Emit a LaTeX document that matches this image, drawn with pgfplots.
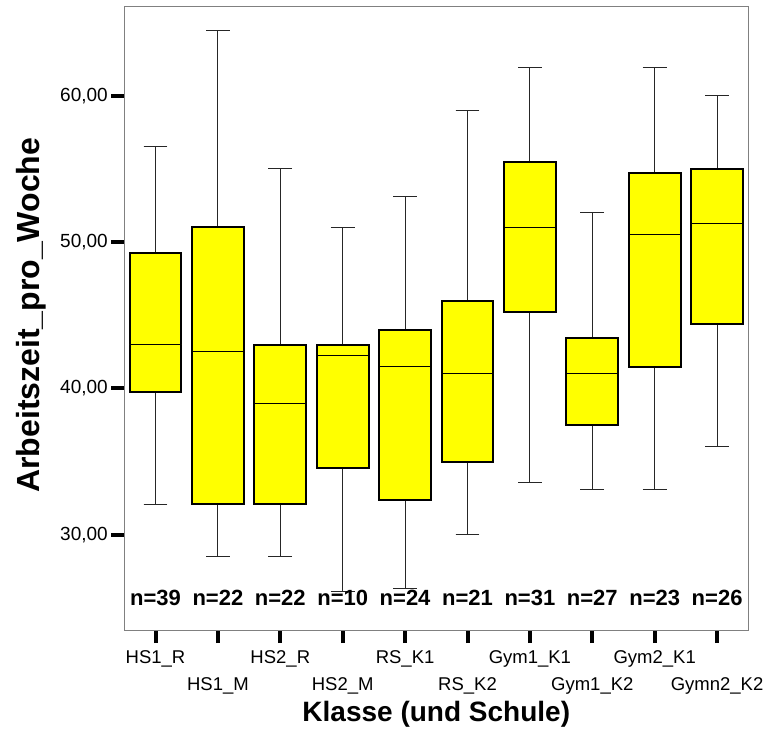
\documentclass[border=0pt]{standalone}
\usepackage{fontspec}
\setmainfont{Liberation Sans}
\usepackage{pgfplots}
\pgfplotsset{compat=1.18}
\usepgfplotslibrary{statistics}

\definecolor{spssyellow}{RGB}{255,255,0}
\definecolor{framegray}{RGB}{128,128,128}

\pgfplotsset{
  kbox/.style={
    draw=black, fill=spssyellow,
    boxplot/draw direction=y,
    boxplot/every box/.append style={line width=2pt},
    boxplot/every median/.append style={line width=1pt},
    boxplot/every whisker/.append style={line width=1pt, black!85},
    boxplot/box extend=0.83,
    boxplot/whisker extend=0.38,
  },
}
\newcommand{\low}[1]{\raisebox{-26.7pt}[\height][\depth]{#1}}

\begin{document}
\begin{tikzpicture}
\begin{axis}[
  name=ax,
  scale only axis,
  width=624pt, height=623.3pt,
  xmin=-0.5, xmax=9.5,
  ymin=23.5, ymax=66.08,
  axis line style={framegray, line width=0.9pt},
  tick align=outside,
  xtick pos=bottom, ytick pos=left,
  major tick length=13pt,
  tick style={black, line width=4pt},
  xtick={0,...,9},
  xticklabels={HS1\_R,\low{HS1\_M},HS2\_R,\low{HS2\_M},RS\_K1,\low{RS\_K2},Gym1\_K1,\low{Gym1\_K2},Gym2\_K1,\low{Gymn2\_K2}},
  xticklabel style={font=\fontsize{18.5}{21}\selectfont, anchor=north, yshift=-4pt},
  ytick={30,40,50,60},
  yticklabel style={font=\fontsize{19}{21}\selectfont,
    /pgf/number format/.cd, fixed, fixed zerofill, precision=2, use comma, assume math mode=true},
  xlabel={Klasse (und Schule)},
  ylabel={Arbeitszeit\_pro\_Woche},
  xlabel style={font=\bfseries\fontsize{28}{30}\selectfont,
    at={(axis description cs:0.5,0)}, anchor=base, yshift=-91.7pt},
  ylabel style={font=\bfseries\fontsize{32}{34}\selectfont,
    at={(axis description cs:0,0.505)}, anchor=base, yshift=84.3pt},
]
\addplot[kbox, boxplot prepared={draw position=0, lower whisker=32.1, lower quartile=39.75, median=43.0, upper quartile=49.25, upper whisker=56.5}] coordinates {};
\addplot[kbox, boxplot prepared={draw position=1, lower whisker=28.55, lower quartile=32.1, median=42.55, upper quartile=51.0, upper whisker=64.45}] coordinates {};
\addplot[kbox, boxplot prepared={draw position=2, lower whisker=28.55, lower quartile=32.1, median=39.0, upper quartile=43.0, upper whisker=55.0}] coordinates {};
\addplot[kbox, boxplot prepared={draw position=3, lower whisker=26.1, lower quartile=34.6, median=42.25, upper quartile=43.0, upper whisker=51.0}] coordinates {};
\addplot[kbox, boxplot prepared={draw position=4, lower whisker=26.35, lower quartile=32.4, median=41.5, upper quartile=44.0, upper whisker=53.1}] coordinates {};
\addplot[kbox, boxplot prepared={draw position=5, lower whisker=30.0, lower quartile=35.0, median=41.05, upper quartile=46.0, upper whisker=59.0}] coordinates {};
\addplot[kbox, boxplot prepared={draw position=6, lower whisker=33.55, lower quartile=45.25, median=51.0, upper quartile=55.45, upper whisker=61.95}] coordinates {};
\addplot[kbox, boxplot prepared={draw position=7, lower whisker=33.1, lower quartile=37.5, median=41.05, upper quartile=43.45, upper whisker=52.05}] coordinates {};
\addplot[kbox, boxplot prepared={draw position=8, lower whisker=33.1, lower quartile=41.5, median=50.55, upper quartile=54.7, upper whisker=61.95}] coordinates {};
\addplot[kbox, boxplot prepared={draw position=9, lower whisker=36.05, lower quartile=44.4, median=51.3, upper quartile=55.0, upper whisker=60.0}] coordinates {};
% sample sizes
\addplot[draw=none, mark=none, nodes near coords, point meta=explicit symbolic,
  every node near coord/.style={anchor=base, inner sep=0pt, font=\bfseries\fontsize{22}{24}\selectfont}]
  coordinates {(0,25.2)[n=39] (1,25.2)[n=22] (2,25.2)[n=22] (3,25.2)[n=10] (4,25.2)[n=24]
               (5,25.2)[n=21] (6,25.2)[n=31] (7,25.2)[n=27] (8,25.2)[n=23] (9,25.2)[n=26]};
\end{axis}
\pgfresetboundingbox
\path ([shift={(-124.3pt,-113pt)}]ax.south west) rectangle ([shift={(17.7pt,6.7pt)}]ax.north east);
\end{tikzpicture}
\end{document}
